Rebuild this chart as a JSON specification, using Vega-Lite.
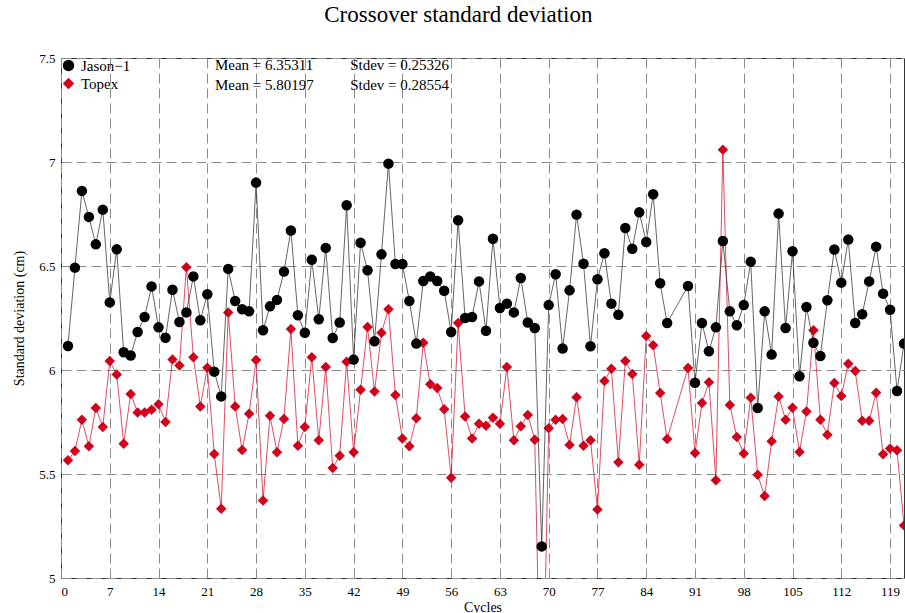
{
  "$schema": "https://vega.github.io/schema/vega-lite/v6.json",
  "autosize": {"type": "none"},
  "width": 843,
  "height": 520,
  "padding": {"left": 61, "top": 58, "right": 1, "bottom": 35},
  "background": "white",
  "title": {"text": "Crossover standard deviation", "font": "Liberation Serif", "fontSize": 23, "fontWeight": "normal", "color": "black", "anchor": "middle", "frame": "bounds", "offset": 25},
  "config": {
    "view": {"stroke": "#333333", "strokeWidth": 1},
    "axis": {"labelFont": "Liberation Serif", "labelFontSize": 13, "labelColor": "black", "titleFont": "Liberation Serif", "titleFontSize": 14, "titleFontWeight": "normal", "titleColor": "black", "ticks": false, "domain": false, "grid": true, "gridColor": "#8c8c8c", "gridDash": [10, 5], "gridWidth": 1}
  },
  "datasets": {
    "xover": [
      {"cycle": 1, "Jason−1": 6.115, "Topex": 5.566},
      {"cycle": 2, "Jason−1": 6.492, "Topex": 5.611},
      {"cycle": 3, "Jason−1": 6.861, "Topex": 5.761},
      {"cycle": 4, "Jason−1": 6.736, "Topex": 5.633},
      {"cycle": 5, "Jason−1": 6.604, "Topex": 5.817},
      {"cycle": 6, "Jason−1": 6.771, "Topex": 5.726},
      {"cycle": 7, "Jason−1": 6.325, "Topex": 6.043},
      {"cycle": 8, "Jason−1": 6.58, "Topex": 5.978},
      {"cycle": 9, "Jason−1": 6.085, "Topex": 5.646},
      {"cycle": 10, "Jason−1": 6.07, "Topex": 5.885},
      {"cycle": 11, "Jason−1": 6.183, "Topex": 5.796},
      {"cycle": 12, "Jason−1": 6.255, "Topex": 5.796},
      {"cycle": 13, "Jason−1": 6.402, "Topex": 5.809},
      {"cycle": 14, "Jason−1": 6.205, "Topex": 5.835},
      {"cycle": 15, "Jason−1": 6.155, "Topex": 5.75},
      {"cycle": 16, "Jason−1": 6.386, "Topex": 6.051},
      {"cycle": 17, "Jason−1": 6.231, "Topex": 6.022},
      {"cycle": 18, "Jason−1": 6.277, "Topex": 6.494},
      {"cycle": 19, "Jason−1": 6.45, "Topex": 6.061},
      {"cycle": 20, "Jason−1": 6.239, "Topex": 5.825},
      {"cycle": 21, "Jason−1": 6.364, "Topex": 6.011},
      {"cycle": 22, "Jason−1": 5.992, "Topex": 5.596},
      {"cycle": 23, "Jason−1": 5.873, "Topex": 5.333},
      {"cycle": 24, "Jason−1": 6.486, "Topex": 6.277},
      {"cycle": 25, "Jason−1": 6.332, "Topex": 5.825},
      {"cycle": 26, "Jason−1": 6.292, "Topex": 5.615},
      {"cycle": 27, "Jason−1": 6.282, "Topex": 5.79},
      {"cycle": 28, "Jason−1": 6.901, "Topex": 6.048},
      {"cycle": 29, "Jason−1": 6.191, "Topex": 5.373},
      {"cycle": 30, "Jason−1": 6.306, "Topex": 5.78},
      {"cycle": 31, "Jason−1": 6.337, "Topex": 5.604},
      {"cycle": 32, "Jason−1": 6.473, "Topex": 5.764},
      {"cycle": 33, "Jason−1": 6.671, "Topex": 6.197},
      {"cycle": 34, "Jason−1": 6.263, "Topex": 5.636},
      {"cycle": 35, "Jason−1": 6.179, "Topex": 5.726},
      {"cycle": 36, "Jason−1": 6.53, "Topex": 6.061},
      {"cycle": 37, "Jason−1": 6.244, "Topex": 5.662},
      {"cycle": 38, "Jason−1": 6.587, "Topex": 6.014},
      {"cycle": 39, "Jason−1": 6.154, "Topex": 5.529},
      {"cycle": 40, "Jason−1": 6.228, "Topex": 5.588},
      {"cycle": 41, "Jason−1": 6.792, "Topex": 6.04},
      {"cycle": 42, "Jason−1": 6.05, "Topex": 5.604},
      {"cycle": 43, "Jason−1": 6.612, "Topex": 5.905},
      {"cycle": 44, "Jason−1": 6.479, "Topex": 6.207},
      {"cycle": 45, "Jason−1": 6.138, "Topex": 5.897},
      {"cycle": 46, "Jason−1": 6.556, "Topex": 6.179},
      {"cycle": 47, "Jason−1": 6.992, "Topex": 6.292},
      {"cycle": 48, "Jason−1": 6.51, "Topex": 5.88},
      {"cycle": 49, "Jason−1": 6.51, "Topex": 5.671},
      {"cycle": 50, "Jason−1": 6.332, "Topex": 5.633},
      {"cycle": 51, "Jason−1": 6.127, "Topex": 5.768},
      {"cycle": 52, "Jason−1": 6.428, "Topex": 6.131},
      {"cycle": 53, "Jason−1": 6.45, "Topex": 5.931},
      {"cycle": 54, "Jason−1": 6.428, "Topex": 5.913},
      {"cycle": 55, "Jason−1": 6.381, "Topex": 5.811},
      {"cycle": 56, "Jason−1": 6.183, "Topex": 5.482},
      {"cycle": 57, "Jason−1": 6.72, "Topex": 6.226},
      {"cycle": 58, "Jason−1": 6.25, "Topex": 5.777},
      {"cycle": 59, "Jason−1": 6.255, "Topex": 5.671},
      {"cycle": 60, "Jason−1": 6.426, "Topex": 5.742},
      {"cycle": 61, "Jason−1": 6.189, "Topex": 5.732},
      {"cycle": 62, "Jason−1": 6.631, "Topex": 5.771},
      {"cycle": 63, "Jason−1": 6.298, "Topex": 5.742},
      {"cycle": 64, "Jason−1": 6.319, "Topex": 6.014},
      {"cycle": 65, "Jason−1": 6.277, "Topex": 5.662},
      {"cycle": 66, "Jason−1": 6.442, "Topex": 5.729},
      {"cycle": 67, "Jason−1": 6.228, "Topex": 5.784},
      {"cycle": 68, "Jason−1": 6.202, "Topex": 5.665},
      {"cycle": 69, "Jason−1": 5.152, "Topex": 4.1},
      {"cycle": 70, "Jason−1": 6.312, "Topex": 5.72},
      {"cycle": 71, "Jason−1": 6.46, "Topex": 5.761},
      {"cycle": 72, "Jason−1": 6.103, "Topex": 5.764},
      {"cycle": 73, "Jason−1": 6.383, "Topex": 5.64},
      {"cycle": 74, "Jason−1": 6.747, "Topex": 5.869},
      {"cycle": 75, "Jason−1": 6.511, "Topex": 5.636},
      {"cycle": 76, "Jason−1": 6.114, "Topex": 5.662},
      {"cycle": 77, "Jason−1": 6.436, "Topex": 5.329},
      {"cycle": 78, "Jason−1": 6.561, "Topex": 5.947},
      {"cycle": 79, "Jason−1": 6.319, "Topex": 6.006},
      {"cycle": 80, "Jason−1": 6.266, "Topex": 5.556},
      {"cycle": 81, "Jason−1": 6.683, "Topex": 6.043},
      {"cycle": 82, "Jason−1": 6.583, "Topex": 5.981},
      {"cycle": 83, "Jason−1": 6.758, "Topex": 5.545},
      {"cycle": 84, "Jason−1": 6.615, "Topex": 6.163},
      {"cycle": 85, "Jason−1": 6.845, "Topex": 6.119},
      {"cycle": 86, "Jason−1": 6.417, "Topex": 5.889},
      {"cycle": 87, "Jason−1": 6.226, "Topex": 5.668},
      {"cycle": 90, "Jason−1": 6.404, "Topex": 6.01},
      {"cycle": 91, "Jason−1": 5.939, "Topex": 5.601},
      {"cycle": 92, "Jason−1": 6.226, "Topex": 5.841},
      {"cycle": 93, "Jason−1": 6.09, "Topex": 5.941},
      {"cycle": 94, "Jason−1": 6.205, "Topex": 5.47},
      {"cycle": 95, "Jason−1": 6.62, "Topex": 7.059},
      {"cycle": 96, "Jason−1": 6.282, "Topex": 5.832},
      {"cycle": 97, "Jason−1": 6.215, "Topex": 5.678},
      {"cycle": 98, "Jason−1": 6.312, "Topex": 5.598},
      {"cycle": 99, "Jason−1": 6.521, "Topex": 5.867},
      {"cycle": 100, "Jason−1": 5.817, "Topex": 5.496},
      {"cycle": 101, "Jason−1": 6.282, "Topex": 5.394},
      {"cycle": 102, "Jason−1": 6.074, "Topex": 5.657},
      {"cycle": 103, "Jason−1": 6.752, "Topex": 5.873},
      {"cycle": 104, "Jason−1": 6.202, "Topex": 5.761},
      {"cycle": 105, "Jason−1": 6.571, "Topex": 5.819},
      {"cycle": 106, "Jason−1": 5.97, "Topex": 5.606},
      {"cycle": 107, "Jason−1": 6.303, "Topex": 5.801},
      {"cycle": 108, "Jason−1": 6.131, "Topex": 6.191},
      {"cycle": 109, "Jason−1": 6.067, "Topex": 5.761},
      {"cycle": 110, "Jason−1": 6.335, "Topex": 5.689},
      {"cycle": 111, "Jason−1": 6.579, "Topex": 5.938},
      {"cycle": 112, "Jason−1": 6.42, "Topex": 5.875},
      {"cycle": 113, "Jason−1": 6.627, "Topex": 6.03},
      {"cycle": 114, "Jason−1": 6.226, "Topex": 5.995},
      {"cycle": 115, "Jason−1": 6.268, "Topex": 5.756},
      {"cycle": 116, "Jason−1": 6.426, "Topex": 5.756},
      {"cycle": 117, "Jason−1": 6.593, "Topex": 5.891},
      {"cycle": 118, "Jason−1": 6.367, "Topex": 5.595},
      {"cycle": 119, "Jason−1": 6.29, "Topex": 5.622},
      {"cycle": 120, "Jason−1": 5.899, "Topex": 5.614},
      {"cycle": 121, "Jason−1": 6.127, "Topex": 5.253}
    ]
  },
  "layer": [
    {
      "data": {"name": "xover"},
      "transform": [{"fold": ["Topex"], "as": ["series", "value"]}],
      "mark": {"type": "line", "clip": true, "color": "#d0021b", "strokeWidth": 0.7},
      "encoding": {
        "x": {"field": "cycle", "type": "quantitative", "scale": {"domain": [0, 121], "nice": false, "zero": false}, "axis": {"values": [0, 7, 14, 21, 28, 35, 42, 49, 56, 63, 70, 77, 84, 91, 98, 105, 112, 119], "title": "Cycles", "labelPadding": 7, "titlePadding": 2}},
        "y": {"field": "value", "type": "quantitative", "scale": {"domain": [5, 7.5], "nice": false, "zero": false}, "axis": {"values": [5, 5.5, 6, 6.5, 7, 7.5], "format": "~g", "title": "Standard deviation (cm)", "labelPadding": 6, "titlePadding": 12}}
      }
    },
    {
      "data": {"name": "xover"},
      "transform": [{"fold": ["Topex"], "as": ["series", "value"]}],
      "mark": {"type": "point", "clip": true, "filled": true, "opacity": 1, "size": 110},
      "encoding": {
        "x": {"field": "cycle", "type": "quantitative"},
        "y": {"field": "value", "type": "quantitative"},
        "color": {"field": "series", "type": "nominal", "scale": {"domain": ["Jason−1", "Topex"], "range": ["black", "#d0021b"]}, "legend": {"orient": "top-left", "title": null, "offset": 0, "padding": 0, "labelFont": "Liberation Serif", "labelFontSize": 15, "labelColor": "black", "symbolSize": 130, "rowPadding": 2, "labelOffset": 5, "symbolStrokeWidth": 0}},
        "shape": {"field": "series", "type": "nominal", "scale": {"domain": ["Jason−1", "Topex"], "range": ["circle", "diamond"]}, "legend": {"orient": "top-left", "title": null, "offset": 0, "padding": 0, "labelFont": "Liberation Serif", "labelFontSize": 15, "labelColor": "black", "symbolSize": 130, "rowPadding": 2, "labelOffset": 5, "symbolStrokeWidth": 0}}
      }
    },
    {
      "data": {"name": "xover"},
      "transform": [{"fold": ["Jason−1"], "as": ["series", "value"]}],
      "mark": {"type": "line", "clip": true, "color": "#222222", "strokeWidth": 0.7},
      "encoding": {
        "x": {"field": "cycle", "type": "quantitative"},
        "y": {"field": "value", "type": "quantitative"}
      }
    },
    {
      "data": {"name": "xover"},
      "transform": [{"fold": ["Jason−1"], "as": ["series", "value"]}],
      "mark": {"type": "point", "clip": true, "filled": true, "opacity": 1, "size": 110},
      "encoding": {
        "x": {"field": "cycle", "type": "quantitative"},
        "y": {"field": "value", "type": "quantitative"},
        "color": {"field": "series", "type": "nominal"},
        "shape": {"field": "series", "type": "nominal"}
      }
    },
    {
      "data": {"values": [{"label": "Mean = 6.35311"}]},
      "mark": {"type": "text", "align": "left", "baseline": "middle", "font": "Liberation Serif", "fontSize": 15, "color": "black"},
      "encoding": {"x": {"datum": 22.1, "type": "quantitative"}, "y": {"datum": 7.466, "type": "quantitative"}, "text": {"field": "label"}}
    },
    {
      "data": {"values": [{"label": "Stdev = 0.25326"}]},
      "mark": {"type": "text", "align": "left", "baseline": "middle", "font": "Liberation Serif", "fontSize": 15, "color": "black"},
      "encoding": {"x": {"datum": 41.5, "type": "quantitative"}, "y": {"datum": 7.466, "type": "quantitative"}, "text": {"field": "label"}}
    },
    {
      "data": {"values": [{"label": "Mean = 5.80197"}]},
      "mark": {"type": "text", "align": "left", "baseline": "middle", "font": "Liberation Serif", "fontSize": 15, "color": "black"},
      "encoding": {"x": {"datum": 22.1, "type": "quantitative"}, "y": {"datum": 7.372, "type": "quantitative"}, "text": {"field": "label"}}
    },
    {
      "data": {"values": [{"label": "Stdev = 0.28554"}]},
      "mark": {"type": "text", "align": "left", "baseline": "middle", "font": "Liberation Serif", "fontSize": 15, "color": "black"},
      "encoding": {"x": {"datum": 41.5, "type": "quantitative"}, "y": {"datum": 7.372, "type": "quantitative"}, "text": {"field": "label"}}
    }
  ]
}
